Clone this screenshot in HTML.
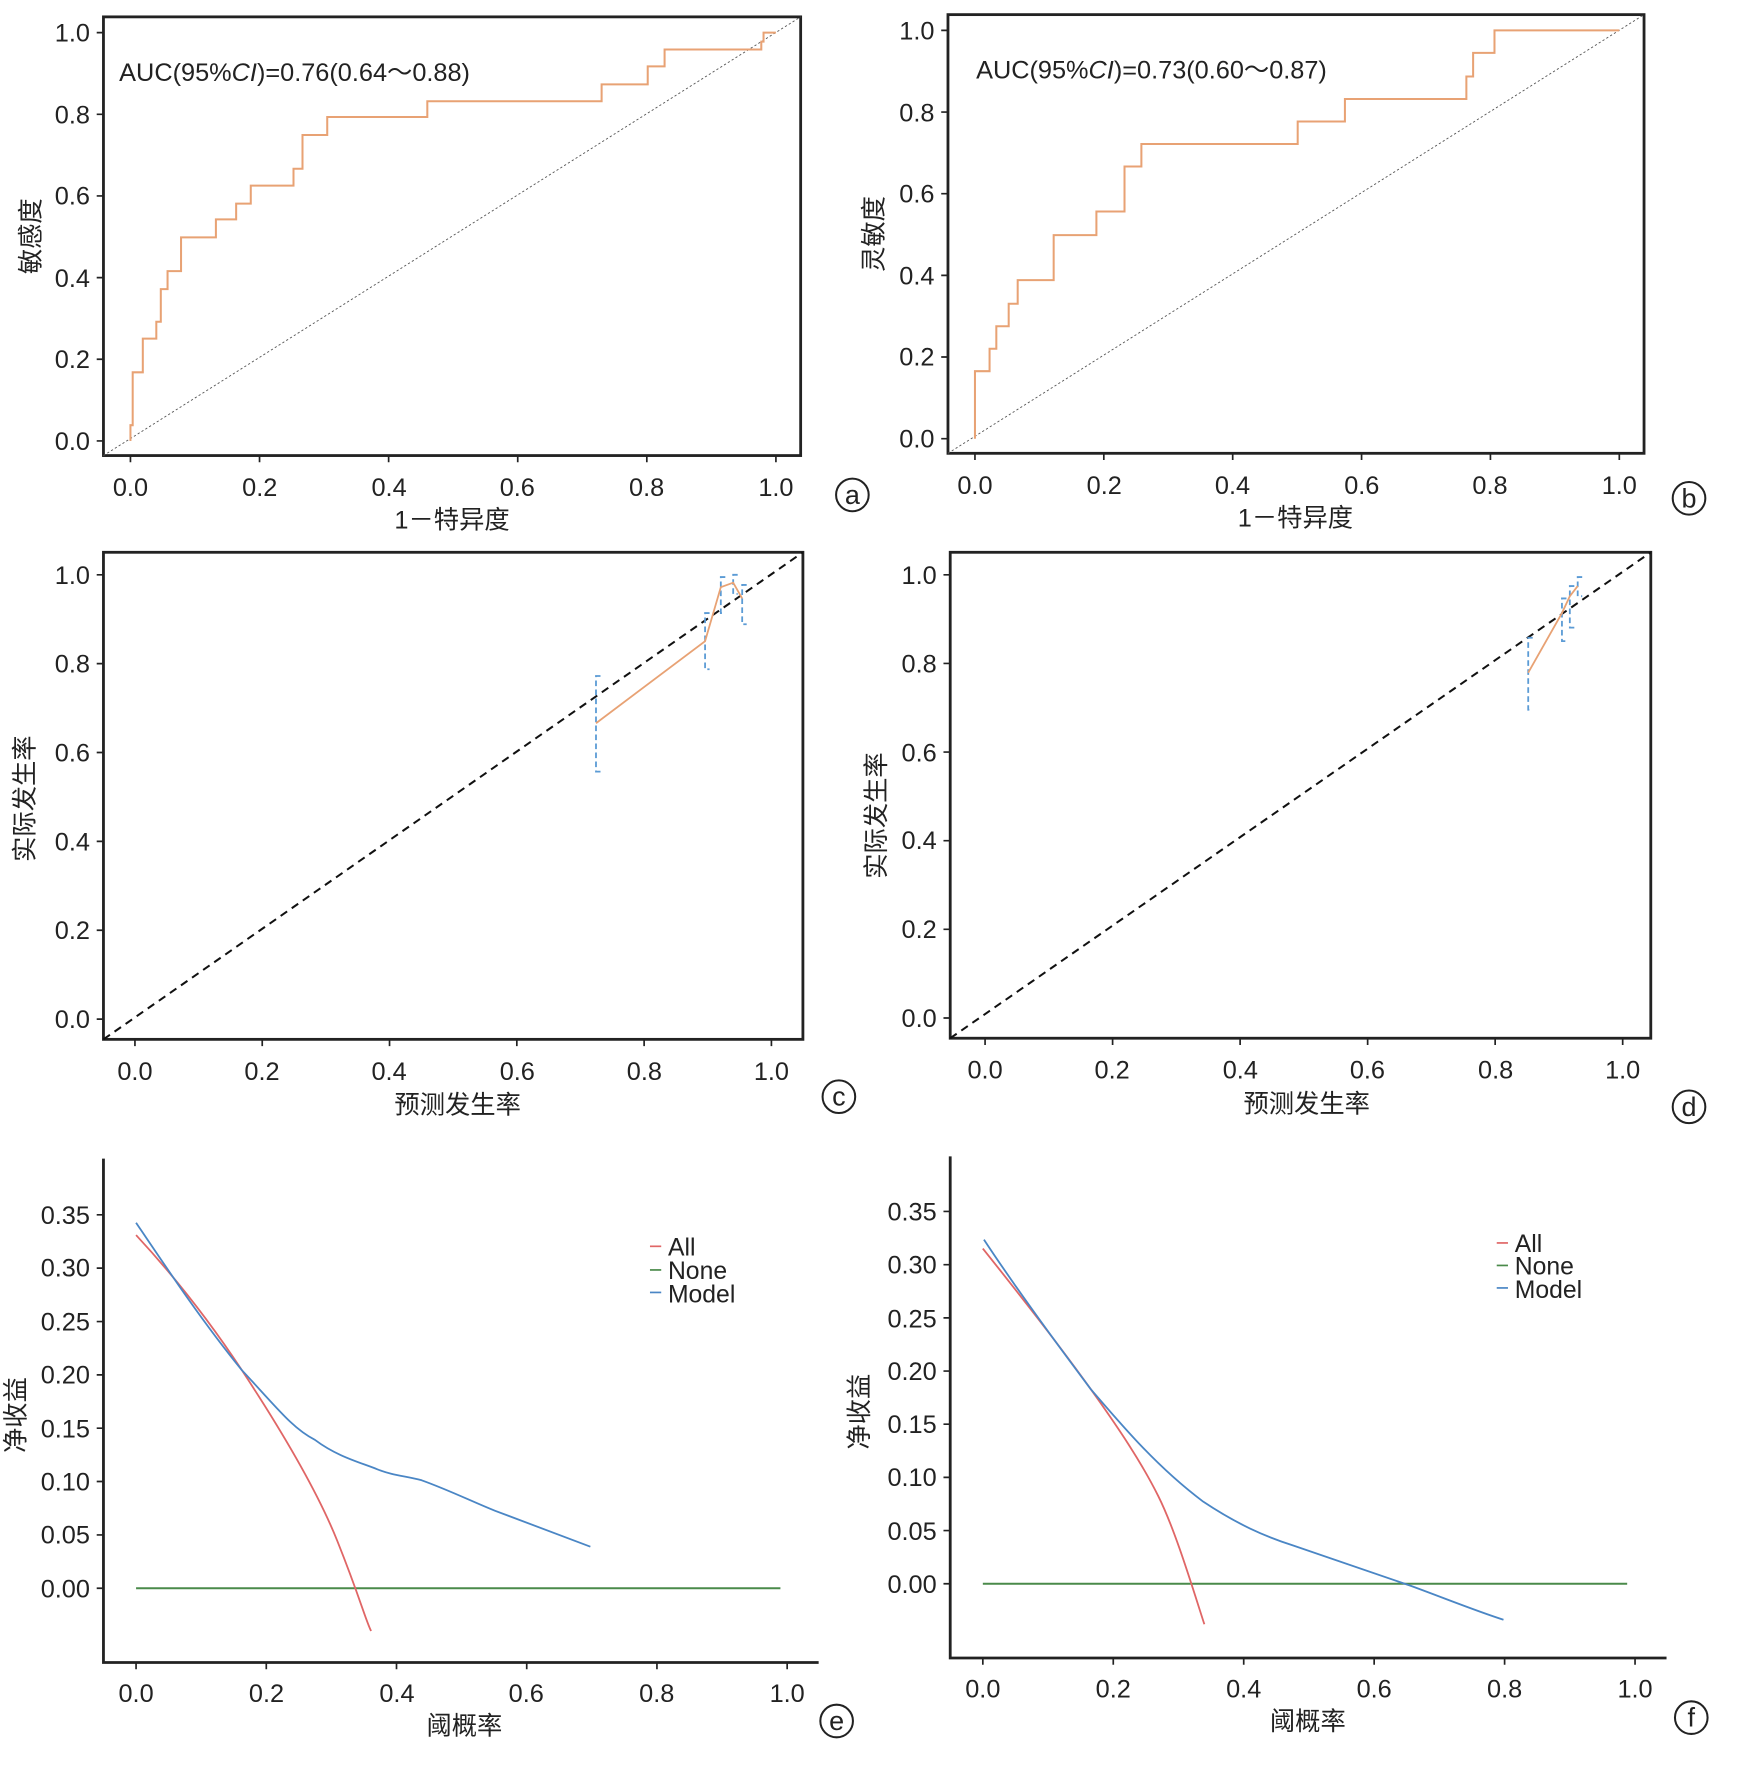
<!DOCTYPE html>
<html><head><meta charset="utf-8"><style>
html,body{margin:0;padding:0;background:#fff}
svg{display:block}
text{font-family:"Liberation Sans","Noto Sans CJK SC",sans-serif;fill:#222}
.t{font-size:22.5px}
.tl{font-size:22px}
</style></head><body>
<svg width="1743" height="1766" viewBox="0 0 1550 1570" preserveAspectRatio="none" xmlns="http://www.w3.org/2000/svg">
<g stroke="#222" fill="none">
<rect x="92" y="15" width="620" height="390" stroke-width="2.5"/>
<rect x="843" y="13" width="619" height="390" stroke-width="2.5"/>
<rect x="92" y="491" width="622" height="433" stroke-width="2.5"/>
<rect x="845" y="491" width="623" height="432" stroke-width="2.5"/>
<path d="M92 1030 V1478 H728" stroke-width="2.5"/>
<path d="M845 1028 V1474 H1482" stroke-width="2.5"/>
<path stroke-width="1.5" d="M86 392H92M86 319.4H92M86 246.8H92M86 174.2H92M86 101.6H92M86 29H92 M116 405V411M230.8 405V411M345.6 405V411M460.4 405V411M575.2 405V411M690 405V411"/>
<path stroke-width="1.5" d="M837 390H843M837 317.4H843M837 244.8H843M837 172.2H843M837 99.6H843M837 27H843 M867 403V409M981.6 403V409M1096.2 403V409M1210.8 403V409M1325.4 403V409M1440 403V409"/>
<path stroke-width="1.5" d="M86 906H92M86 827H92M86 748H92M86 669H92M86 590H92M86 511H92 M120 924V930M233.2 924V930M346.4 924V930M459.6 924V930M572.8 924V930M686 924V930"/>
<path stroke-width="1.5" d="M839 905H845M839 826.2H845M839 747.4H845M839 668.6H845M839 589.8H845M839 511H845 M876 923V929M989.4 923V929M1102.8 923V929M1216.2 923V929M1329.6 923V929M1443 923V929"/>
<path stroke-width="1.5" d="M86 1080H92M86 1127.4H92M86 1174.9H92M86 1222.3H92M86 1269.7H92M86 1317.1H92M86 1364.6H92M86 1412H92 M121 1478V1484M236.8 1478V1484M352.6 1478V1484M468.4 1478V1484M584.2 1478V1484M700 1478V1484"/>
<path stroke-width="1.5" d="M839 1077H845M839 1124.3H845M839 1171.6H845M839 1218.9H845M839 1266.1H845M839 1313.4H845M839 1360.7H845M839 1408H845 M874 1474V1480M990 1474V1480M1106 1474V1480M1222 1474V1480M1338 1474V1480M1454 1474V1480"/>
</g>
<line x1="92" y1="405" x2="712" y2="15" stroke="#555" stroke-width="0.8" stroke-dasharray="2,2"/>
<line x1="843" y1="403" x2="1462" y2="13" stroke="#555" stroke-width="0.8" stroke-dasharray="2,2"/>
<line x1="92" y1="924" x2="714" y2="491" stroke="#111" stroke-width="1.8" stroke-dasharray="7,5"/>
<line x1="845" y1="923" x2="1468" y2="491" stroke="#111" stroke-width="1.8" stroke-dasharray="7,5"/>
<path fill="none" stroke="#e8a274" stroke-width="1.8" d="M116 392 V378 H118 V331 H127 V301 H139 V286 H143 V257 H149 V241 H161 V211 H192 V195 H210 V181 H223 V165 H261 V150 H269 V120 H291 V104 H380 V90 H535 V75 H576 V59 H591 V44 H677 V37 H679 V29 H690"/>
<path fill="none" stroke="#e8a274" stroke-width="1.8" d="M867 390 V330 H880 V310 H886 V290 H897 V270 H905 V249 H937 V209 H975 V188 H1000 V148 H1015 V128 H1154 V108 H1196 V88 H1304 V68 H1310 V47 H1329 V27 H1440"/>
<g stroke="#5b9bd5" stroke-width="1.6" fill="none" stroke-dasharray="5,3">
<path d="M534 601H530V686H534 M631 545H627V595H631 M645 513H641V545H645 M656 511H652V528H656 M664 520H660V555H664"/>
<path d="M1363 567H1359V631H1363 M1393 532H1389V570H1393 M1400 521H1396V558H1400 M1407 513H1403V530H1407"/>
</g>
<g stroke="#e8a274" stroke-width="1.6">
<polyline fill="none" points="530,643 627,570 641,522 652,518 660,532"/>
<polyline fill="none" points="1359,598 1389,545 1396,530 1403,521"/>
</g>
<line x1="121" y1="1412" x2="694" y2="1412" stroke="#4a8a4a" stroke-width="1.8"/>
<path fill="none" stroke="#e06666" stroke-width="1.6" d="M121 1098 C160 1140 190 1180 215 1218 S280 1320 300 1370 S325 1440 330 1450"/>
<path fill="none" stroke="#4a86c5" stroke-width="1.6" d="M121 1087 C150 1130 180 1175 215 1218 C245 1250 260 1270 280 1280 C300 1295 320 1300 335 1306 C350 1312 360 1312 375 1316 C400 1325 420 1335 440 1343 L525 1375"/>
<line x1="874" y1="1408" x2="1447" y2="1408" stroke="#4a8a4a" stroke-width="1.8"/>
<path fill="none" stroke="#e06666" stroke-width="1.6" d="M874 1110 C910 1155 945 1200 970 1235 S1015 1300 1030 1330 S1060 1410 1071 1444"/>
<path fill="none" stroke="#4a86c5" stroke-width="1.6" d="M875 1102 C900 1140 940 1195 970 1235 C1000 1270 1030 1305 1070 1335 C1100 1355 1125 1366 1150 1374 C1190 1388 1225 1400 1255 1410 C1285 1421 1312 1432 1337 1440"/>
<g stroke-width="1.5">
<line x1="578" y1="1108" x2="588" y2="1108" stroke="#e06666"/>
<line x1="578" y1="1129" x2="588" y2="1129" stroke="#4a8a4a"/>
<line x1="578" y1="1149" x2="588" y2="1149" stroke="#4a86c5"/>
<line x1="1331" y1="1105" x2="1341" y2="1105" stroke="#e06666"/>
<line x1="1331" y1="1125" x2="1341" y2="1125" stroke="#4a8a4a"/>
<line x1="1331" y1="1145" x2="1341" y2="1145" stroke="#4a86c5"/>
</g>
<g class="tl">
<text x="594" y="1116">All</text><text x="594" y="1137">None</text><text x="594" y="1158">Model</text>
<text x="1347" y="1113">All</text><text x="1347" y="1133">None</text><text x="1347" y="1154">Model</text>
</g>
<text x="106" y="72" class="t">AUC(95%<tspan font-style="italic">CI</tspan>)=0.76(0.64～0.88)</text>
<text x="868" y="70" class="t">AUC(95%<tspan font-style="italic">CI</tspan>)=0.73(0.60～0.87)</text>
<g class="t" text-anchor="end">
<text x="80" y="400">0.0</text><text x="80" y="327">0.2</text><text x="80" y="255">0.4</text><text x="80" y="182">0.6</text><text x="80" y="110">0.8</text><text x="80" y="37">1.0</text>
<text x="831" y="398">0.0</text><text x="831" y="325">0.2</text><text x="831" y="253">0.4</text><text x="831" y="180">0.6</text><text x="831" y="108">0.8</text><text x="831" y="35">1.0</text>
<text x="80" y="914">0.0</text><text x="80" y="835">0.2</text><text x="80" y="756">0.4</text><text x="80" y="677">0.6</text><text x="80" y="598">0.8</text><text x="80" y="519">1.0</text>
<text x="833" y="913">0.0</text><text x="833" y="834">0.2</text><text x="833" y="755">0.4</text><text x="833" y="677">0.6</text><text x="833" y="598">0.8</text><text x="833" y="519">1.0</text>
<text x="80" y="1088">0.35</text><text x="80" y="1135">0.30</text><text x="80" y="1183">0.25</text><text x="80" y="1230">0.20</text><text x="80" y="1278">0.15</text><text x="80" y="1325">0.10</text><text x="80" y="1372">0.05</text><text x="80" y="1420">0.00</text>
<text x="833" y="1085">0.35</text><text x="833" y="1132">0.30</text><text x="833" y="1180">0.25</text><text x="833" y="1227">0.20</text><text x="833" y="1274">0.15</text><text x="833" y="1321">0.10</text><text x="833" y="1369">0.05</text><text x="833" y="1416">0.00</text>
</g>
<g class="t" text-anchor="middle">
<text x="116" y="441">0.0</text><text x="231" y="441">0.2</text><text x="346" y="441">0.4</text><text x="460" y="441">0.6</text><text x="575" y="441">0.8</text><text x="690" y="441">1.0</text>
<text x="867" y="439">0.0</text><text x="982" y="439">0.2</text><text x="1096" y="439">0.4</text><text x="1211" y="439">0.6</text><text x="1325" y="439">0.8</text><text x="1440" y="439">1.0</text>
<text x="120" y="960">0.0</text><text x="233" y="960">0.2</text><text x="346" y="960">0.4</text><text x="460" y="960">0.6</text><text x="573" y="960">0.8</text><text x="686" y="960">1.0</text>
<text x="876" y="959">0.0</text><text x="989" y="959">0.2</text><text x="1103" y="959">0.4</text><text x="1216" y="959">0.6</text><text x="1330" y="959">0.8</text><text x="1443" y="959">1.0</text>
<text x="121" y="1513">0.0</text><text x="237" y="1513">0.2</text><text x="353" y="1513">0.4</text><text x="468" y="1513">0.6</text><text x="584" y="1513">0.8</text><text x="700" y="1513">1.0</text>
<text x="874" y="1509">0.0</text><text x="990" y="1509">0.2</text><text x="1106" y="1509">0.4</text><text x="1222" y="1509">0.6</text><text x="1338" y="1509">0.8</text><text x="1454" y="1509">1.0</text>
<text x="402" y="470">1－特异度</text>
<text x="1152" y="468">1－特异度</text>
<text x="407" y="990">预测发生率</text>
<text x="1162" y="989">预测发生率</text>
<text x="413" y="1542">阈概率</text>
<text x="1163" y="1538">阈概率</text>
<text transform="translate(35,210) rotate(-90)">敏感度</text>
<text transform="translate(785,208) rotate(-90)">灵敏度</text>
<text transform="translate(30,710) rotate(-90)">实际发生率</text>
<text transform="translate(787,725) rotate(-90)">实际发生率</text>
<text transform="translate(22,1258) rotate(-90)">净收益</text>
<text transform="translate(772,1255) rotate(-90)">净收益</text>
</g>
<g fill="none" stroke="#222" stroke-width="1.8">
<circle cx="758" cy="440" r="14.5"/><circle cx="1502" cy="443" r="14.5"/><circle cx="746" cy="975" r="14.5"/><circle cx="1502" cy="984" r="14.5"/><circle cx="744" cy="1530" r="14.5"/><circle cx="1504" cy="1527" r="14.5"/>
</g>
<g text-anchor="middle" style="font-size:24px">
<text x="758" y="448">a</text><text x="1502" y="451">b</text><text x="746" y="983">c</text><text x="1502" y="992">d</text><text x="744" y="1538">e</text><text x="1504" y="1535">f</text>
</g>
</svg>
</body></html>
